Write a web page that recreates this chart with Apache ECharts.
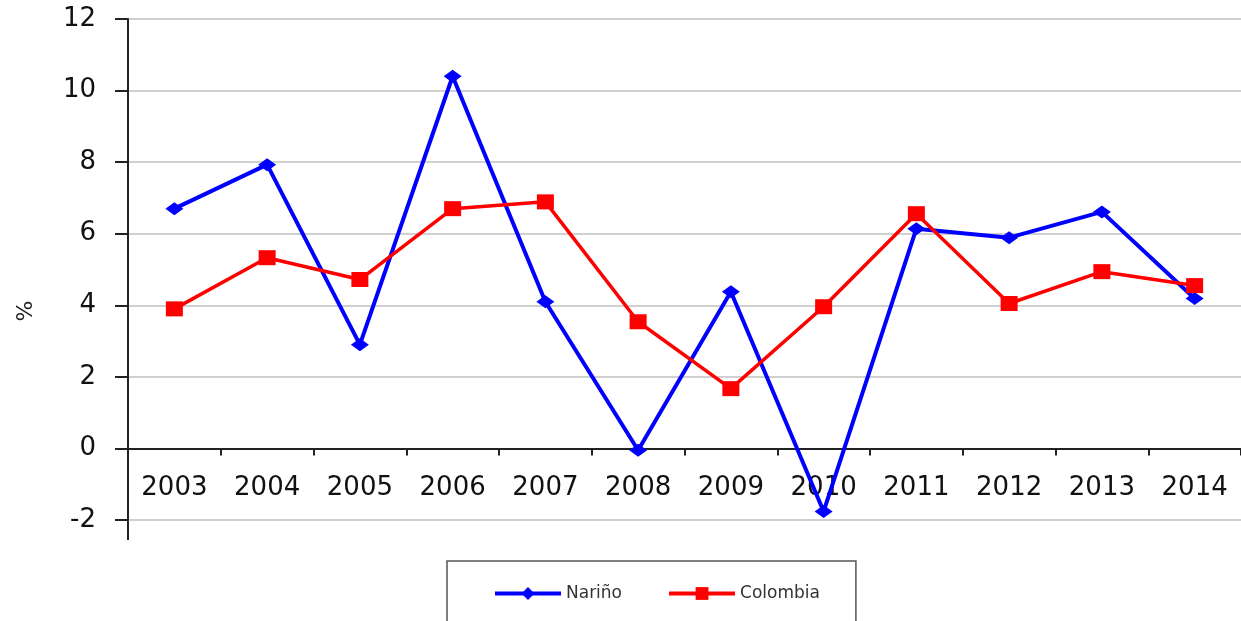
<!DOCTYPE html>
<html>
<head>
<meta charset="utf-8">
<script src="https://cdn.jsdelivr.net/npm/echarts@6/dist/echarts.min.js"></script>
<style>
  html, body { margin: 0; padding: 0; background: #fff; }
  #main { width: 1241px; height: 621px; }
</style>
</head>
<body>
<div id="main"></div>
<script>
// datos
var years = ['2003', '2004', '2005', '2006', '2007', '2008', '2009', '2010', '2011', '2012', '2013', '2014'];
var narino = [6.7, 7.93, 2.9, 10.4, 4.1, -0.05, 4.38, -1.76, 6.14, 5.89, 6.61, 4.19];
var colombia = [3.9, 5.33, 4.72, 6.7, 6.89, 3.54, 1.67, 3.96, 6.56, 4.05, 4.94, 4.55];

var myChart = echarts.init(document.getElementById('main'));

var font = 'DejaVu Sans, sans-serif';

option = {
    animation: false,
    backgroundColor: '#fff',
    grid: {
        left: 128,
        top: 19,
        bottom: 101,
        right: -5
    },
    legend: {
        left: 447,
        top: 561,
        padding: [24, 36, 26, 46],
        borderColor: '#555',
        borderWidth: 1.5,
        itemWidth: 66,
        itemHeight: 16,
        itemGap: 45,
        lineStyle: { width: 4 },
        textStyle: { fontFamily: font, fontSize: 17, color: '#333' },
        data: ['Nariño', 'Colombia']
    },
    graphic: [
        {
            // el eje vertical sigue un poco por debajo de -2
            type: 'line',
            shape: { x1: 128, y1: 520, x2: 128, y2: 540 },
            style: { stroke: '#222', lineWidth: 2 }
        },
        {
            type: 'text',
            x: 26,
            y: 311,
            rotation: Math.PI / 2,
            style: {
                text: '%',
                font: '22px ' + font,
                fill: '#222',
                textAlign: 'center',
                textVerticalAlign: 'middle'
            }
        }
    ],
    xAxis: {
        type: 'category',
        data: years,
        boundaryGap: true,
        axisLine: { onZero: true, lineStyle: { color: '#222', width: 2 } },
        axisTick: { show: true, length: 7, lineStyle: { color: '#222', width: 2 } },
        axisLabel: { fontFamily: font, fontSize: 26, color: '#111', margin: -45 },
        splitLine: { show: false }
    },
    yAxis: {
        type: 'value',
        min: -2,
        max: 12,
        interval: 2,
        axisLine: { show: true, lineStyle: { color: '#222', width: 2 } },
        axisTick: { show: true, length: 13, lineStyle: { color: '#222', width: 2 } },
        axisLabel: { fontFamily: font, fontSize: 26, color: '#111', margin: 32 },
        splitLine: { show: true, lineStyle: { color: '#d0d0d0', width: 2 } }
    },
    series: [
        {
            name: 'Nariño',
            type: 'line',
            data: narino,
            symbol: 'diamond',
            symbolSize: [18, 13],
            lineStyle: { color: '#0000ff', width: 4 },
            itemStyle: { color: '#0000ff' }
        },
        {
            name: 'Colombia',
            type: 'line',
            data: colombia,
            symbol: 'rect',
            symbolSize: [17, 15],
            lineStyle: { color: '#ff0000', width: 3.5 },
            itemStyle: { color: '#ff0000' }
        }
    ]
};

myChart.setOption(option);
</script>
</body>
</html>
